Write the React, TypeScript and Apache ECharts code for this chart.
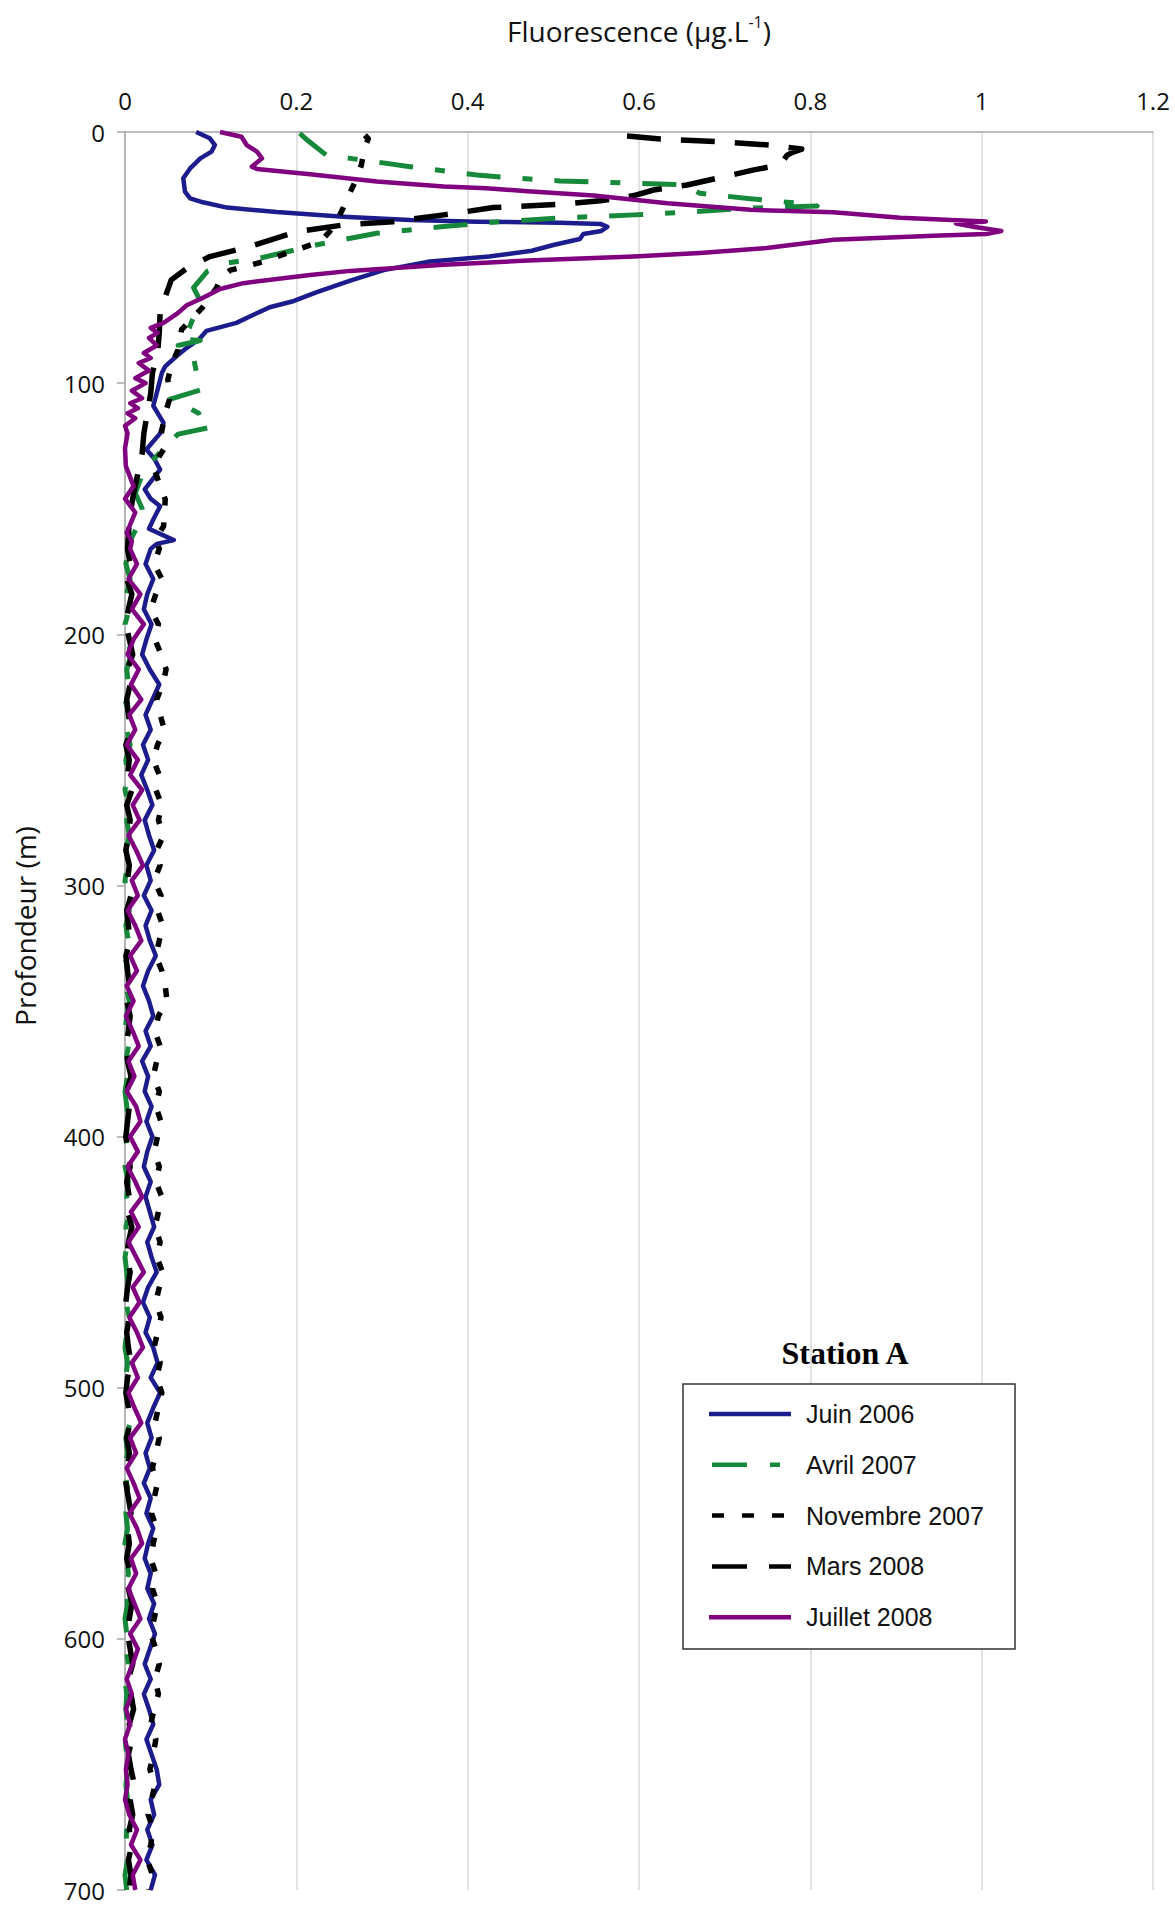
import React, { useEffect, useRef } from 'react';
import * as echarts from 'echarts';

// ---------- DATA (value in µg/L, depth in m) ----------
const xTicks = [0, 0.2, 0.4, 0.6, 0.8, 1, 1.2];
const seriesNames = ['Juin 2006', 'Avril 2007', 'Novembre 2007', 'Mars 2008', 'Juillet 2008'];

const juinTop = [
  [0.083, 0], [0.099, 2.5], [0.105, 5.2], [0.101, 7.8], [0.088, 10.5], [0.076, 14.5], [0.068, 18.4],
  [0.070, 23.7], [0.076, 26.4], [0.091, 28], [0.119, 30.1], [0.177, 31.9], [0.255, 33.7], [0.333, 35],
  [0.411, 35.7], [0.508, 36.1], [0.555, 36.6], [0.563, 37.8], [0.556, 39.4], [0.535, 40.6], [0.531, 42.6],
  [0.500, 45], [0.475, 47.3], [0.425, 49.6], [0.353, 51.7], [0.302, 55], [0.263, 59.2], [0.224, 63.8],
  [0.195, 67.5], [0.169, 69.8], [0.150, 72.8], [0.130, 76], [0.095, 79.2], [0.086, 82.7], [0.070, 86.5],
  [0.060, 89.3], [0.047, 93.3], [0.043, 96], [0.040, 100], [0.037, 104], [0.033, 109], [0.045, 115.8],
  [0.041, 120], [0.025, 126.4], [0.034, 130], [0.041, 134.4], [0.023, 142.3], [0.030, 146], [0.041, 149],
  [0.033, 154.3], [0.028, 158], [0.057, 162.5], [0.037, 164],
];
const avrilTop = [
  [0.204, 0.5], [0.212, 3], [0.220, 5.2], [0.235, 9.2], [0.263, 10.5], [0.333, 13.8], [0.411, 17.1],
  [0.457, 18.4], [0.508, 19.5], [0.555, 20], [0.652, 21], [0.671, 24.4], [0.730, 26.6], [0.800, 28.8],
  [0.808, 29.5], [0.730, 30.3], [0.656, 31.9], [0.594, 33], [0.516, 34.1], [0.438, 35.7], [0.372, 37.6],
  [0.294, 40.3], [0.224, 44.9], [0.158, 50.2], [0.119, 52.2], [0.096, 55.5], [0.080, 62], [0.086, 66],
  [0.082, 72], [0.075, 78], [0.066, 82.5], [0.088, 83], [0.062, 85], [0.080, 90], [0.082, 93.3],
  [0.086, 100], [0.090, 102.5], [0.052, 106.5], [0.070, 109], [0.086, 112], [0.090, 115], [0.101, 117.5],
  [0.062, 120.3], [0.045, 126], [0.033, 130.5], [0.021, 135.7], [0.012, 143.7], [0.020, 150], [0.021, 153],
  [0.010, 160], [0.006, 163],
];
const novTop = [
  [0.280, 1.3], [0.284, 2.7], [0.281, 5], [0.278, 9.3], [0.276, 13], [0.272, 17.2], [0.267, 21],
  [0.261, 25.2], [0.255, 30], [0.249, 34.2], [0.245, 37], [0.238, 40], [0.228, 43.7], [0.193, 47.7],
  [0.161, 51.7], [0.123, 55], [0.112, 58], [0.107, 62], [0.090, 70], [0.066, 78.7], [0.062, 86.7],
  [0.055, 92], [0.050, 98.6], [0.052, 106.5], [0.047, 111.8], [0.041, 122.5], [0.045, 126.4], [0.033, 133],
  [0.040, 140], [0.047, 146.3], [0.045, 157], [0.036, 162],
];
const marsTop = [
  [0.586, 1.6], [0.625, 2.8], [0.691, 3.8], [0.753, 5.2], [0.790, 6.8], [0.780, 8], [0.773, 9.2],
  [0.765, 13.1], [0.734, 15.1], [0.699, 17.8], [0.656, 21.1], [0.617, 23.1], [0.594, 25.3], [0.555, 27.4],
  [0.508, 28.8], [0.460, 29.6], [0.430, 30.1], [0.372, 33], [0.313, 35.7], [0.255, 37], [0.200, 39.7],
  [0.146, 45.6], [0.099, 49.6], [0.072, 54.3], [0.054, 58.9], [0.045, 67.5], [0.041, 72.1], [0.040, 80],
  [0.038, 88], [0.032, 96], [0.030, 104], [0.026, 112], [0.022, 120], [0.020, 128], [0.015, 136],
  [0.010, 144], [0.006, 152], [0.004, 160],
];
const juilletTop = [
  [0.111, 0], [0.136, 1.9], [0.142, 5.2], [0.154, 7.8], [0.160, 10.5], [0.148, 13.8], [0.154, 14.7],
  [0.216, 16.8], [0.294, 19.7], [0.372, 21.7], [0.422, 22.4], [0.470, 23.6], [0.547, 25.3], [0.633, 28.4],
  [0.730, 31], [0.827, 32], [0.905, 34.1], [1.005, 35.6], [0.970, 36.4], [0.992, 37.8], [1.023, 39.4],
  [1.005, 40.6], [0.944, 41.3], [0.827, 42.9], [0.749, 46.2], [0.671, 48.2], [0.594, 49.6], [0.470, 51.2],
  [0.372, 52.9], [0.263, 55.3], [0.216, 56.9], [0.138, 60.2], [0.111, 62.5], [0.090, 66.2], [0.072, 69],
  [0.062, 72], [0.045, 76], [0.030, 78], [0.038, 80], [0.028, 82], [0.037, 85], [0.022, 88], [0.030, 90],
  [0.016, 92], [0.028, 95], [0.012, 98], [0.024, 100], [0.008, 103], [0.020, 106], [0.006, 108],
  [0.015, 110], [0.003, 112], [0.012, 114], [0.000, 117], [0.003, 120], [0.000, 126], [0.001, 133],
  [0.010, 141], [0.000, 146], [0.012, 151.5], [0.002, 159.6], [0.008, 163],
];

const deepDepths = [
  166, 172, 178, 184, 190, 196, 202, 208, 214, 220,
  226, 232, 238, 244, 250, 256, 262, 268, 274, 280,
  286, 292, 298, 304, 310, 316, 322, 328, 334, 340,
  346, 352, 358, 364, 370, 376, 382, 388, 394, 400,
  406, 412, 418, 424, 430, 436, 442, 448, 454, 460,
  466, 472, 478, 484, 490, 496, 502, 508, 514, 520,
  526, 532, 538, 544, 550, 556, 562, 568, 574, 580,
  586, 592, 598, 604, 610, 616, 622, 628, 634, 640,
  646, 652, 658, 664, 670, 676, 682, 688, 694, 700,
];
const juinDeep = [
  0.030, 0.024, 0.033, 0.026, 0.022, 0.031, 0.025, 0.020, 0.029, 0.040,
  0.032, 0.024, 0.030, 0.021, 0.027, 0.019, 0.026, 0.032, 0.023, 0.028,
  0.034, 0.025, 0.030, 0.022, 0.031, 0.024, 0.029, 0.036, 0.027, 0.021,
  0.028, 0.033, 0.024, 0.030, 0.020, 0.027, 0.023, 0.031, 0.025, 0.032,
  0.026, 0.022, 0.030, 0.024, 0.029, 0.034, 0.026, 0.031, 0.037, 0.027,
  0.021, 0.029, 0.024, 0.033, 0.038, 0.030, 0.041, 0.033, 0.026, 0.031,
  0.024, 0.029, 0.022, 0.030, 0.025, 0.033, 0.027, 0.023, 0.030, 0.026,
  0.034, 0.028, 0.035, 0.029, 0.023, 0.030, 0.022, 0.028, 0.033, 0.025,
  0.031, 0.037, 0.040, 0.030, 0.034, 0.026, 0.032, 0.025, 0.035, 0.030,
];
const avrilDeep = [
  0.004, 0.001, 0.006, 0.002, 0.005, 0.000, 0.003, 0.007, 0.002, 0.004,
  0.000, 0.005, 0.002, 0.006, 0.001, 0.003, 0.000, 0.004, 0.002, 0.005,
  0.001, 0.003, 0.000, 0.002, 0.005, 0.001, 0.004, 0.000, 0.003, 0.001,
  0.005, 0.002, 0.000, 0.004, 0.001, 0.003, 0.000, 0.002, 0.005, 0.001,
  0.003, 0.000, 0.004, 0.002, 0.006, 0.001, 0.003, 0.000, 0.002, 0.004,
  0.001, 0.005, 0.002, 0.000, 0.003, 0.001, 0.004, 0.002, 0.006, 0.001,
  0.003, 0.000, 0.002, 0.005, 0.001, 0.003, 0.000, 0.002, 0.004, 0.001,
  0.003, 0.000, 0.002, 0.001, 0.004, 0.000, 0.002, 0.001, 0.003, 0.000,
  0.002, 0.004, 0.001, 0.003, 0.000, 0.002, 0.001, 0.003, 0.000, 0.002,
];
const novDeep = [
  0.040, 0.034, 0.043, 0.036, 0.030, 0.039, 0.035, 0.042, 0.048, 0.044,
  0.037, 0.041, 0.046, 0.038, 0.033, 0.040, 0.036, 0.043, 0.039, 0.045,
  0.037, 0.041, 0.034, 0.042, 0.038, 0.044, 0.040, 0.036, 0.043, 0.047,
  0.049, 0.039, 0.035, 0.041, 0.037, 0.033, 0.040, 0.036, 0.042, 0.038,
  0.034, 0.040, 0.036, 0.043, 0.039, 0.035, 0.041, 0.037, 0.044, 0.040,
  0.036, 0.042, 0.038, 0.034, 0.041, 0.037, 0.043, 0.039, 0.035, 0.040,
  0.036, 0.032, 0.038, 0.034, 0.031, 0.037, 0.033, 0.030, 0.036, 0.032,
  0.038, 0.034, 0.030, 0.036, 0.040, 0.035, 0.039, 0.034, 0.030, 0.036,
  0.033, 0.029, 0.035, 0.031, 0.027, 0.033, 0.030, 0.026, 0.032, 0.028,
];
const marsDeep = [
  0.003, 0.006, 0.002, 0.008, 0.004, 0.001, 0.005, 0.009, 0.003, 0.006,
  0.002, 0.004, 0.007, 0.001, 0.005, 0.003, 0.008, 0.002, 0.006, 0.004,
  0.001, 0.005, 0.003, 0.007, 0.002, 0.004, 0.006, 0.001, 0.003, 0.005,
  0.002, 0.006, 0.004, 0.001, 0.003, 0.007, 0.002, 0.005, 0.003, 0.001,
  0.004, 0.006, 0.002, 0.005, 0.003, 0.008, 0.004, 0.002, 0.006, 0.003,
  0.001, 0.005, 0.002, 0.004, 0.007, 0.003, 0.001, 0.004, 0.006, 0.002,
  0.005, 0.003, 0.001, 0.004, 0.007, 0.003, 0.005, 0.002, 0.006, 0.004,
  0.008, 0.005, 0.003, 0.006, 0.009, 0.004, 0.007, 0.010, 0.005, 0.008,
  0.004, 0.007, 0.011, 0.006, 0.009, 0.005, 0.008, 0.004, 0.007, 0.005,
];
const juilletDeep = [
  0.006, 0.014, 0.004, 0.018, 0.008, 0.022, 0.010, 0.003, 0.016, 0.007,
  0.019, 0.005, 0.012, 0.002, 0.015, 0.006, 0.020, 0.009, 0.017, 0.004,
  0.013, 0.021, 0.008, 0.015, 0.003, 0.012, 0.019, 0.006, 0.014, 0.002,
  0.010, 0.001, 0.009, 0.016, 0.004, 0.011, 0.002, 0.013, 0.018, 0.006,
  0.015, 0.003, 0.012, 0.020, 0.007, 0.016, 0.004, 0.013, 0.022, 0.009,
  0.017, 0.005, 0.014, 0.021, 0.008, 0.015, 0.004, 0.011, 0.019, 0.006,
  0.013, 0.002, 0.010, 0.017, 0.005, 0.014, 0.020, 0.007, 0.013, 0.004,
  0.011, 0.018, 0.006, 0.015, 0.009, 0.002, 0.008, 0.001, 0.006, 0.000,
  0.004, 0.001, 0.003, 0.000, 0.005, 0.014, 0.007, 0.018, 0.009, 0.012,
];

// ---------- STYLES ----------
const COLORS = ['#1c1c8c', '#17893a', '#000000', '#000000', '#800080'];
const WIDTHS = [4.5, 5, 5.5, 5.5, 4.5];
const DASHES: (number[] | 'solid')[] = ['solid', [34, 22, 10, 22], [9, 17], [34, 20], 'solid'];
const LEGEND_DASH: (number[] | null)[] = [null, [35, 23, 10, 23], [12, 18], [35, 22], null];
const LEGEND_X2 = [791, 780, 786, 791, 791];

function build(top: number[][], deep: number[]) {
  return top.concat(deepDepths.map((d, i) => [deep[i], d]));
}

export default function App() {
  const ref = useRef<HTMLDivElement>(null);
  useEffect(() => {
    document.body.style.margin = '0';
    const chart = echarts.init(ref.current as HTMLDivElement, null, { renderer: 'svg' });
    const datasets = [
      build(juinTop, juinDeep),
      build(avrilTop, avrilDeep),
      build(novTop, novDeep),
      build(marsTop, marsDeep),
      build(juilletTop, juilletDeep),
    ];
    const font = 'Open Sans';
    const legendTop = 1414;
    const legendStep = 50.8;
    const legendGraphics: any[] = [
      {
        type: 'text', x: 845, y: 1353,
        style: { text: 'Station A', fontFamily: 'Liberation Serif', fontWeight: 'bold', fontSize: 32, fill: '#000', align: 'center', verticalAlign: 'middle', textAlign: 'center', textVerticalAlign: 'middle' },
      },
      {
        type: 'rect', shape: { x: 683, y: 1384, width: 332, height: 265 },
        style: { fill: '#fff', stroke: '#333', lineWidth: 1.5 }, z: 10,
      },
    ];
    seriesNames.forEach((n, i) => {
      const y = legendTop + i * legendStep;
      legendGraphics.push({
        type: 'line', z: 11,
        shape: { x1: LEGEND_DASH[i] ? 712 : 709, y1: y, x2: LEGEND_X2[i], y2: y },
        style: { stroke: COLORS[i], lineWidth: 4.5, lineDash: LEGEND_DASH[i] || undefined },
      });
      legendGraphics.push({
        type: 'text', z: 11, x: 806, y,
        style: { text: n, fontFamily: 'Liberation Sans', fontSize: 25, fill: '#111', align: 'left', verticalAlign: 'middle', textAlign: 'left', textVerticalAlign: 'middle' },
      });
    });

    chart.setOption({
      animation: false,
      backgroundColor: '#ffffff',
      grid: { left: 125, top: 132, width: 1028, height: 1758, containLabel: false },
      xAxis: {
        type: 'value', position: 'top', min: 0, max: 1.2, interval: 0.2,
        name: '{t|Fluorescence (µg.L}{s|-1}{t|)}',
        nameLocation: 'middle', nameGap: 84,
        nameTextStyle: {
          rich: {
            t: { fontFamily: font, fontSize: 28, color: '#111', lineHeight: 34 },
            s: { fontFamily: font, fontSize: 16, color: '#111', lineHeight: 17, verticalAlign: 'top' },
          },
        },
        axisLine: { show: true, onZero: false, lineStyle: { color: '#a6a6a6', width: 1.5 } },
        axisTick: { show: false },
        axisLabel: {
          fontFamily: font, fontSize: 24, color: '#111', margin: 20,
          formatter: (v: number) => String(xTicks.reduce((a, b) => (Math.abs(b - v) < Math.abs(a - v) ? b : a))),
        },
        splitLine: { show: true, lineStyle: { color: '#d9d9d9', width: 1.5 } },
      },
      yAxis: {
        type: 'value', inverse: true, min: 0, max: 700, interval: 100,
        axisLine: { show: true, onZero: false, lineStyle: { color: '#a6a6a6', width: 1.5 } },
        axisTick: { show: true, length: 8, lineStyle: { color: '#a6a6a6', width: 1.5 } },
        axisLabel: { fontFamily: font, fontSize: 24, lineHeight: 24, color: '#111', margin: 20 },
        splitLine: { show: false },
      },
      graphic: [
        {
          type: 'text', x: 25, y: 926, rotation: Math.PI / 2,
          style: { text: 'Profondeur (m)', fontFamily: font, fontSize: 28, fill: '#111', align: 'center', verticalAlign: 'middle', textAlign: 'center', textVerticalAlign: 'middle' },
        },
        ...legendGraphics,
      ],
      series: seriesNames.map((n, i) => ({
        name: n,
        type: 'line',
        data: datasets[i],
        showSymbol: false,
        symbol: 'none',
        smooth: false,
        clip: true,
        z: 2 + i,
        lineStyle: { color: COLORS[i], width: WIDTHS[i], type: DASHES[i], cap: 'butt', join: 'round' },
      })),
    });
    return () => chart.dispose();
  }, []);
  return <div ref={ref} style={{ width: 1175, height: 1906 }} />;
}
